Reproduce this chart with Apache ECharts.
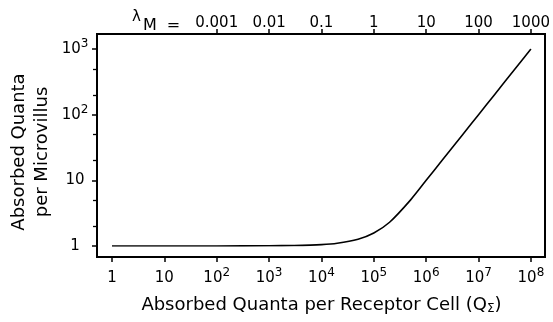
<!DOCTYPE html>
<html><head><meta charset="utf-8">
<script src="https://cdn.jsdelivr.net/npm/echarts@6/dist/echarts.min.js"></script>
<style>html,body{margin:0;padding:0;background:#fff}#c{width:553px;height:322px}</style>
</head><body><div id="c"></div>
<script>
// Absorbed quanta per receptor cell (Q_Sigma)
const quantaPerCell = [1, 10, 100, 1000, 3000, 1e4, 2e4, 5e4, 1e5, 2e5, 5e5, 1e6, 2e6, 5e6, 1e7, 2e7, 5e7, 1e8];
// Absorbed quanta per microvillus
const quantaPerMicrovillus = [1, 1, 1, 1.01, 1.02, 1.05, 1.1, 1.27, 1.58, 2.3, 5.0, 10, 20, 50, 100, 200, 500, 1000];
const xTicks = [1, 10, 100, 1e3, 1e4, 1e5, 1e6, 1e7, 1e8];
const xTickLabels = ['{n|1}', '{n|10}', '{n|10}{s|2}', '{n|10}{s|3}', '{n|10}{s|4}', '{n|10}{s|5}', '{n|10}{s|6}', '{n|10}{s|7}', '{n|10}{s|8}'];
const yTicks = [1, 10, 100, 1000];
const yTickLabels = ['{n|1}', '{n|10}', '{n|10}{s|2}', '{n|10}{s|3}'];
const yMinorTicks = [2, 5, 20, 50, 200, 500];
const lambdaTicks = [0.001, 0.01, 0.1, 1, 10, 100, 1000];
const lambdaTickLabels = ['0.001', '0.01', '0.1', '1', '10', '100', '1000'];

const FONT = 'DejaVu Sans';
const rich = {
  n: { fontSize: 15, lineHeight: 22, fontFamily: FONT, color: '#000' },
  s: { fontSize: 12, lineHeight: 12, verticalAlign: 'top', fontFamily: FONT, color: '#000' }
};
const chart = echarts.init(document.getElementById('c'), null, { renderer: 'canvas' });
function lab(ticks, labels) { return v => { const i = ticks.findIndex(t => Math.abs(Math.log10(t) - Math.log10(v)) < 1e-6); return i >= 0 ? labels[i] : ''; }; }

chart.setOption({
  animation: false,
  backgroundColor: '#fff',
  textStyle: { fontFamily: FONT, color: '#000' },
  grid: [
    { left: 97, right: 8, top: 34, bottom: 65, show: true, borderColor: '#000', borderWidth: 2, backgroundColor: 'transparent' },
    { left: 112, right: 21, top: 49, bottom: 76 }
  ],
  xAxis: [
    { gridIndex: 0, type: 'value', show: false, min: 0, max: 1 },
    { gridIndex: 1, type: 'log', min: 1, max: 1e8, position: 'bottom', offset: 11,
      axisLine: { show: false },
      axisTick: { show: true, length: 5, inside: false, customValues: xTicks, lineStyle: { color: '#000', width: 1.5 } },
      axisLabel: { customValues: xTicks, formatter: lab(xTicks, xTickLabels), fontSize: 15, fontFamily: FONT, color: '#000', margin: 10, rich },
      splitLine: { show: false },
      name: 'Absorbed Quanta per Receptor Cell (Q{sub|Σ})', nameLocation: 'middle', nameGap: 38,
      nameTextStyle: { fontSize: 18, fontFamily: FONT, color: '#000',
        rich: { sub: { fontSize: 12, verticalAlign: 'bottom', padding: [8, 0, 0, 0], fontFamily: FONT, color: '#000' } } } },
    { gridIndex: 1, type: 'log', min: 1e-5, max: 1e3, position: 'top', offset: 15,
      axisLine: { show: false },
      axisTick: { show: true, length: 5, inside: false, customValues: lambdaTicks, lineStyle: { color: '#000', width: 1.5 } },
      axisLabel: { customValues: lambdaTicks, formatter: lab(lambdaTicks, lambdaTickLabels), fontSize: 15, fontFamily: FONT, color: '#000', margin: 3 },
      splitLine: { show: false } }
  ],
  yAxis: [
    { gridIndex: 0, type: 'value', show: false, min: 0, max: 1 },
    { gridIndex: 1, type: 'log', min: 1, max: 1000, position: 'left', offset: 15,
      axisLine: { show: false },
      axisTick: { show: true, length: 5, customValues: yTicks, lineStyle: { color: '#000', width: 1.5 } },
      axisLabel: { customValues: yTicks, formatter: lab(yTicks, yTickLabels), fontSize: 15, fontFamily: FONT, color: '#000', margin: 22, align: 'center', rich },
      splitLine: { show: false } },
    { gridIndex: 1, type: 'log', min: 1, max: 1000, position: 'left', offset: 15,
      axisLine: { show: false },
      axisTick: { show: true, length: 4, customValues: yMinorTicks, lineStyle: { color: '#000', width: 1.3 } },
      axisLabel: { show: false }, splitLine: { show: false } }
  ],
  graphic: [
    { type: 'text', x: 132, y: 22, style: { text: '{l|λ}{m|M  =}', fontFamily: FONT, fill: '#000', verticalAlign: 'middle', textVerticalAlign: 'middle',
      rich: { l: { fontSize: 15, fontFamily: FONT, lineHeight: 15, verticalAlign: 'top', padding: [0, 2, 0, 0] }, m: { fontSize: 16, fontFamily: FONT, lineHeight: 24, verticalAlign: 'bottom' } } } },
    { type: 'text', x: 31, y: 152, rotation: Math.PI / 2,
      style: { text: 'Absorbed Quanta\nper Microvillus', fontSize: 18, fontFamily: FONT, fill: '#000', lineHeight: 23,
        align: 'center', verticalAlign: 'middle', textAlign: 'center', textVerticalAlign: 'middle' } }
  ],
  series: [{
    type: 'line', xAxisIndex: 1, yAxisIndex: 1, smooth: 0.3, symbol: 'none',
    lineStyle: { color: '#000', width: 1.6 },
    data: quantaPerCell.map((q, i) => [q, quantaPerMicrovillus[i]])
  }]
});
</script></body></html>
